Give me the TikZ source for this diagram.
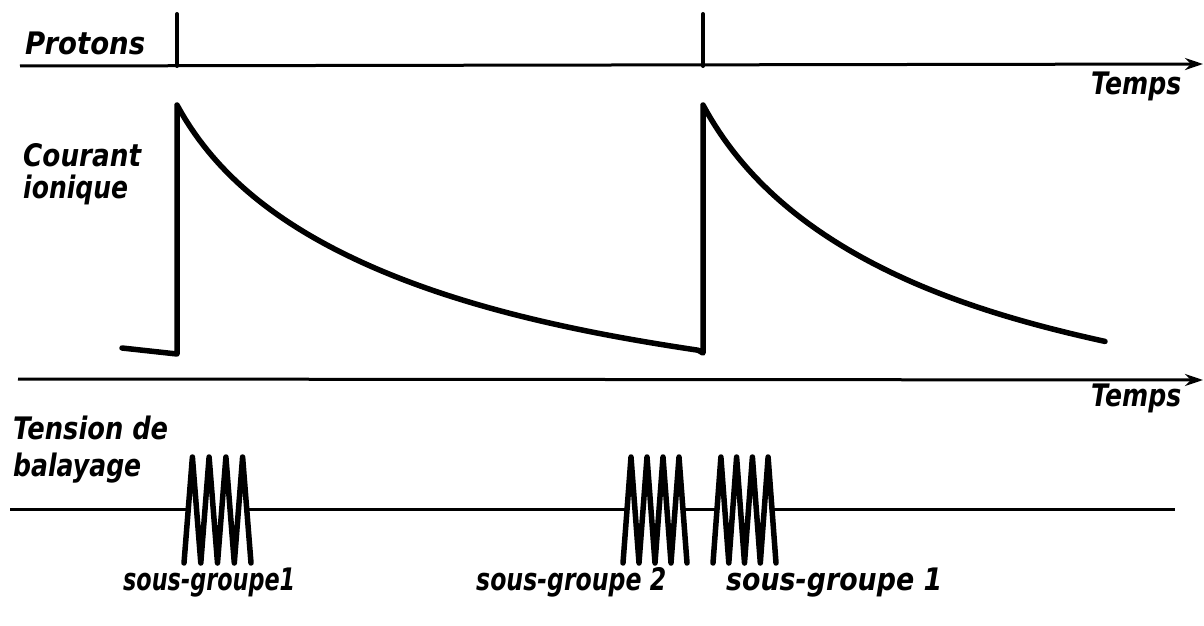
\documentclass[tikz,border=0pt]{standalone}
\usepackage{fontspec}
\usepackage{graphicx}
\newfontfamily\labfont{DejaVu Sans}
\usetikzlibrary{arrows.meta}
\newcommand\fitw[2]{\resizebox{#1}{\height}{#2}}
\begin{document}
\begin{tikzpicture}[x=1pt,y=-1pt,
  lab/.style={font=\labfont\bfseries\itshape\fontsize{31}{34}\selectfont, inner sep=0pt, anchor=base west},
  axisline/.style={line width=3pt, -{Stealth[length=18pt,width=12pt]}},
  spike/.style={line width=4pt, line cap=round},
  curve/.style={line width=5.5pt, line cap=round, line join=round},
  baseline/.style={line width=3pt},
  zig/.style={line width=5.5pt, line join=round, line cap=round}]
\useasboundingbox (0,0) rectangle (1204,626);
% --- axes
\coordinate (a1s) at (20,66);
\coordinate (a1e) at (1203,64);
\coordinate (a2s) at (18,379);
\coordinate (a2e) at (1203,380);
\draw[axisline] (a1s) -- (a1e);
\draw[axisline] (a2s) -- (a2e);
% --- proton spikes
\coordinate (p1b) at (177,66); \coordinate (p1t) at (177,14);
\coordinate (p2b) at (703,66); \coordinate (p2t) at (703,14);
\draw[spike] (p1b) -- (p1t);
\draw[spike] (p2b) -- (p2t);
% --- ionic current
\draw[curve] (122,348) -- (177,354) -- (177,105)
  plot[domain=0:521, samples=120] ({177+\x},{105+108*ln(1+\x/60)+6*sin(\x*0.34549)})
  -- (703,353) -- (703,105)
  plot[domain=0:402, samples=100] ({703+\x},{105+121.5*ln(1+\x/67)+5*sin(\x*0.44776)});
% --- sweep voltage baseline
\draw[baseline] (10,509) -- (188,509);
\draw[baseline] (247,509) -- (627,509);
\draw[baseline] (683,509) -- (717,509);
\draw[baseline] (772,509) -- (1175,509);
% zigzags
\draw[zig] (184,563) -- (192.4,457) -- (200.8,563) -- (209.1,457) -- (217.5,563) -- (225.9,457) -- (234.3,563) -- (242.6,457) -- (251,563);
\draw[zig] (623,563) -- (631,457) -- (639,563) -- (647,457) -- (655,563) -- (663,457) -- (671,563) -- (679,457) -- (687,563);
\draw[zig] (713,563) -- (720.9,457) -- (728.8,563) -- (736.6,457) -- (744.5,563) -- (752.4,457) -- (760.3,563) -- (768.1,457) -- (776,563);
% --- labels
\node[lab] (protons) at (25,55) {\fitw{120pt}{Protons}};
\node[lab] (temps1) at (1091,94) {\fitw{90pt}{Temps}};
\node[lab] (courant) at (23,166) {\fitw{118pt}{Courant}};
\node[lab] (ionique) at (23,198) {\fitw{105pt}{ionique}};
\node[lab] (temps2) at (1091,406) {\fitw{90pt}{Temps}};
\node[lab] (tension) at (13,439) {\fitw{155pt}{Tension de}};
\node[lab] (balayage) at (13,476) {\fitw{128pt}{balayage}};
\node[lab] (sg1) at (123,590) {\fitw{172pt}{sous-groupe1}};
\node[lab] (sg2) at (476,590) {\fitw{190pt}{sous-groupe 2}};
\node[lab] (sg3) at (726,590) {\fitw{216pt}{sous-groupe 1}};
\end{tikzpicture}
\end{document}
